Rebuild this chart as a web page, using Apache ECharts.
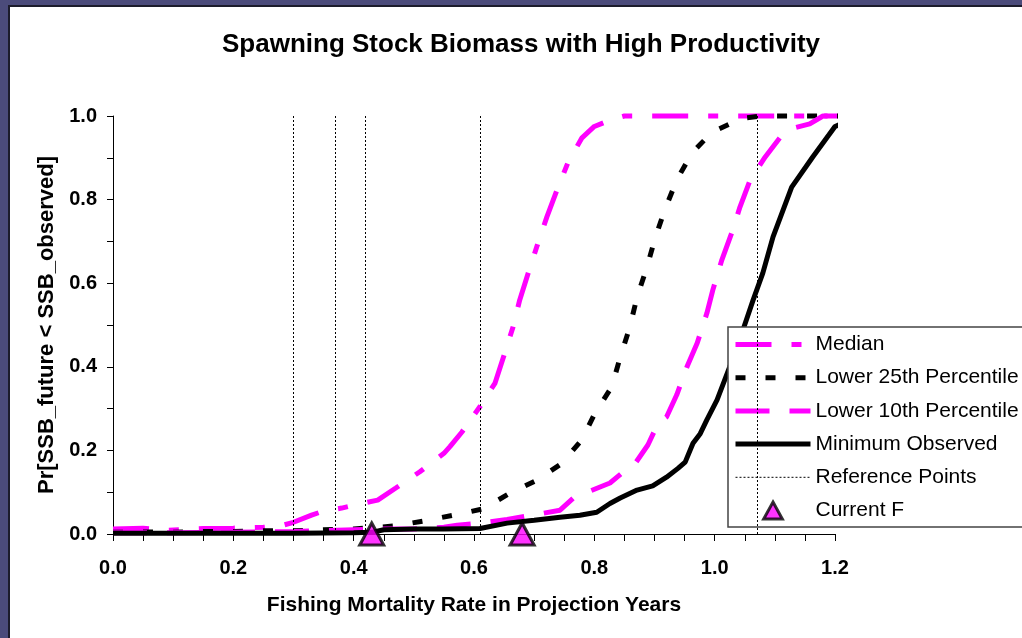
<!DOCTYPE html>
<html>
<head>
<meta charset="utf-8">
<title>Spawning Stock Biomass with High Productivity</title>
<script src="https://cdn.jsdelivr.net/npm/echarts@6/dist/echarts.min.js"></script>
<style>
    html, body { margin: 0; padding: 0; }
    body { width: 1022px; height: 638px; background: #4b4b7b; position: relative; overflow: hidden; }
    #frame { position: absolute; left: 8px; top: 5px; right: 0; bottom: 0; background: #fff;
             border-left: 2px solid #1c1c2c; border-top: 2px solid #1c1c2c; }
    #ssb-chart { position: absolute; left: 0; top: 0; width: 1022px; height: 638px; }
</style>
</head>
<body>
<div id="frame"></div>
<div id="ssb-chart"></div>
<script>
// [F, Pr] pairs
const median = [
    [0.00, 0.012], [0.05, 0.014], [0.09, 0.009], [0.15, 0.013], [0.20, 0.014], [0.25, 0.016],
    [0.28, 0.020], [0.30, 0.028], [0.33, 0.045], [0.35, 0.055], [0.38, 0.062], [0.42, 0.075],
    [0.44, 0.081], [0.47, 0.110], [0.51, 0.149], [0.55, 0.193], [0.56, 0.209], [0.58, 0.244],
    [0.61, 0.305], [0.635, 0.361], [0.65, 0.428], [0.665, 0.496], [0.676, 0.560], [0.69, 0.624],
    [0.705, 0.690], [0.721, 0.758], [0.738, 0.823], [0.756, 0.888], [0.779, 0.947], [0.80, 0.975],
    [0.826, 0.990], [0.85, 1.0], [0.95, 1.0], [1.05, 1.0], [1.15, 1.0], [1.22, 1.0]
];
const lower25 = [
    [0.00, 0.004], [0.05, 0.005], [0.10, 0.004], [0.15, 0.006], [0.20, 0.006], [0.25, 0.008],
    [0.30, 0.008], [0.35, 0.010], [0.40, 0.012], [0.43, 0.015], [0.466, 0.019], [0.516, 0.031],
    [0.566, 0.045], [0.615, 0.060], [0.66, 0.098], [0.705, 0.129], [0.745, 0.168], [0.779, 0.225],
    [0.801, 0.289], [0.829, 0.352], [0.843, 0.423], [0.859, 0.495], [0.871, 0.567], [0.887, 0.636],
    [0.901, 0.708], [0.917, 0.775], [0.937, 0.847], [0.962, 0.911], [0.996, 0.962], [1.047, 0.995],
    [1.08, 1.0], [1.15, 1.0], [1.22, 1.0]
];
const lower10 = [
    [0.00, 0.003], [0.10, 0.003], [0.20, 0.004], [0.30, 0.006], [0.40, 0.010], [0.45, 0.012],
    [0.50, 0.012], [0.55, 0.016], [0.572, 0.021], [0.61, 0.026], [0.655, 0.035], [0.705, 0.047],
    [0.743, 0.057], [0.765, 0.086], [0.788, 0.100], [0.826, 0.122], [0.846, 0.146], [0.868, 0.169],
    [0.889, 0.213], [0.906, 0.265], [0.92, 0.280], [0.937, 0.333], [0.954, 0.400], [0.971, 0.457],
    [0.987, 0.528], [0.997, 0.584], [1.012, 0.656], [1.03, 0.727], [1.042, 0.782], [1.059, 0.847],
    [1.084, 0.902], [1.112, 0.955], [1.13, 0.971], [1.158, 0.981], [1.18, 1.0], [1.22, 1.0]
];
const minimumObs = [
    [0.00, 0.002], [0.10, 0.002], [0.20, 0.002], [0.30, 0.002], [0.40, 0.003], [0.43, 0.004],
    [0.45, 0.010], [0.50, 0.012], [0.55, 0.012], [0.61, 0.013], [0.655, 0.026], [0.70, 0.033],
    [0.743, 0.040], [0.776, 0.045], [0.804, 0.052], [0.826, 0.073], [0.843, 0.086], [0.871, 0.105],
    [0.897, 0.115], [0.92, 0.136], [0.939, 0.157], [0.951, 0.172], [0.964, 0.217], [0.976, 0.240],
    [0.987, 0.273], [1.004, 0.321], [1.025, 0.400], [1.047, 0.488], [1.064, 0.560], [1.08, 0.624],
    [1.097, 0.711], [1.128, 0.830], [1.163, 0.902], [1.19, 0.955], [1.20, 0.975], [1.217, 0.985]
];
const referencePoints = [0.30, 0.37, 0.42, 0.61, 1.07];
const currentF = [0.43, 0.68];

(function () {
    const font = "'Liberation Sans', Arial, sans-serif";
    const chart = echarts.init(document.getElementById('ssb-chart'));

    function curve(name, data, color, dash) {
        return {
            name: name,
            type: 'line',
            data: data,
            symbol: 'none',
            clip: false,
            z: 3,
            lineStyle: { color: color, width: 5, type: dash }
        };
    }

    // line entries in the legend: show the stroke only, hide the marker
    function lineItem(name, width) {
        const item = { name: name, itemStyle: { opacity: 0 } };
        if (width) item.lineStyle = { width: width };
        return item;
    }

    const option = {
        backgroundColor: 'transparent',
        animation: false,
        textStyle: { fontFamily: font },
        title: {
            text: 'Spawning Stock Biomass with High Productivity',
            left: 217,
            top: 27,
            textStyle: { fontFamily: font, fontSize: 26, fontWeight: 'bold', color: '#000' }
        },
        grid: { left: 113, top: 116, right: 187, bottom: 104 },
        legend: {
            orient: 'vertical',
            left: 728,
            top: 327,
            padding: [7, 6, 6, 5],
            itemWidth: 75,
            itemHeight: 17,
            itemGap: 12.2,
            backgroundColor: '#fff',
            borderColor: '#444',
            borderWidth: 1.5,
            borderRadius: 0,
            textStyle: { fontFamily: font, fontSize: 21, lineHeight: 21, color: '#000' },
            lineStyle: { width: 5 },
            data: [
                lineItem('Median'),
                lineItem('Lower 25th Percentile'),
                lineItem('Lower 10th Percentile'),
                lineItem('Minimum Observed'),
                lineItem('Reference Points', 1),
                { name: 'Current F', icon: 'path://M11,0 L22,20 L0,20 Z', itemStyle: { borderWidth: 3 } }
            ]
        },
        xAxis: {
            type: 'value',
            min: 0,
            max: 1.2,
            interval: 0.2,
            name: 'Fishing Mortality Rate in Projection Years',
            nameLocation: 'middle',
            nameGap: 61,
            nameTextStyle: { fontFamily: font, fontSize: 21, fontWeight: 'bold', color: '#000' },
            axisLine: { lineStyle: { color: '#000', width: 1 } },
            axisTick: { length: 7, lineStyle: { color: '#000' } },
            minorTick: { show: true, splitNumber: 4, length: 7, lineStyle: { color: '#000' } },
            splitLine: { show: false },
            axisLabel: {
                margin: 24,
                fontFamily: font,
                fontSize: 20,
                fontWeight: 'bold',
                color: '#000',
                formatter: v => v.toFixed(1)
            }
        },
        yAxis: {
            type: 'value',
            min: 0,
            max: 1,
            interval: 0.2,
            name: 'Pr[SSB_future < SSB_observed]',
            nameLocation: 'middle',
            nameGap: 38,
            nameTextStyle: { fontFamily: font, fontSize: 22, fontWeight: 'bold', color: '#000' },
            axisLine: { show: true, lineStyle: { color: '#000', width: 1 } },
            axisTick: { show: true, length: 6, lineStyle: { color: '#000' } },
            minorTick: { show: true, splitNumber: 2, length: 6, lineStyle: { color: '#000' } },
            splitLine: { show: false },
            axisLabel: {
                margin: 16,
                fontFamily: font,
                fontSize: 20,
                fontWeight: 'bold',
                color: '#000',
                formatter: v => v.toFixed(1)
            }
        },
        series: [
            curve('Median', median, '#ff00ff', [36, 20, 10, 20]),
            curve('Lower 25th Percentile', lower25, '#000', [10, 20]),
            curve('Lower 10th Percentile', lower10, '#ff00ff', [34, 20]),
            curve('Minimum Observed', minimumObs, '#000', 'solid'),
            {
                name: 'Reference Points',
                type: 'line',
                data: [],
                symbol: 'none',
                lineStyle: { color: '#000', width: 1, type: [2, 2] },
                markLine: {
                    silent: true,
                    symbol: 'none',
                    label: { show: false },
                    lineStyle: { color: '#000', width: 1, type: [2, 2] },
                    data: referencePoints.map(f => ({ xAxis: f }))
                },
                z: 2
            },
            {
                name: 'Current F',
                type: 'scatter',
                data: currentF.map(f => [f, 0]),
                symbol: 'triangle',
                symbolSize: [24, 22],
                clip: false,
                z: 5,
                itemStyle: { color: '#ff00ff', borderColor: '#000', borderWidth: 3 }
            }
        ]
    };

    chart.setOption(option);
    window.addEventListener('resize', function () {
        chart.resize();
    });
})();
</script>
</body>
</html>
